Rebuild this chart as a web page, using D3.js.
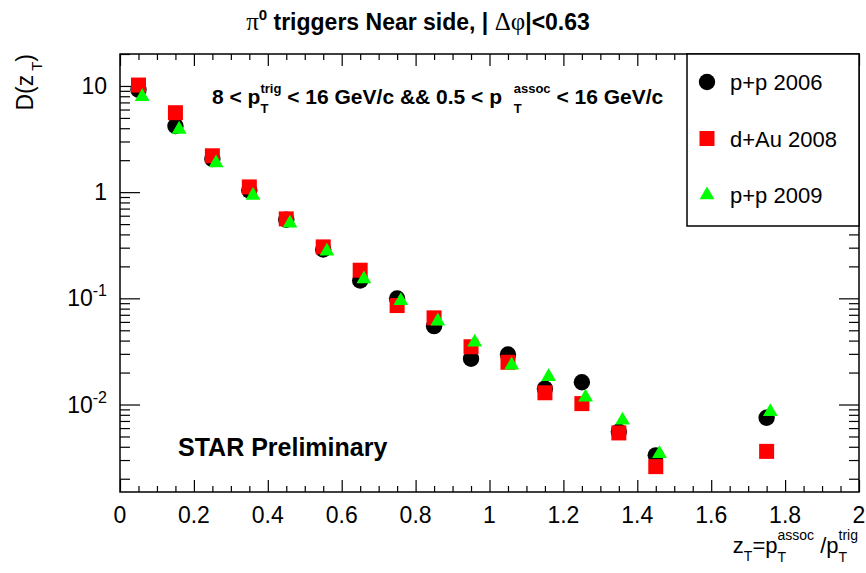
<!DOCTYPE html>
<html>
<head>
<meta charset="utf-8">
<script src="https://cdn.jsdelivr.net/npm/d3@7"></script>
<style>
body { margin: 0; background: #fff; }
text { font-family: "Liberation Sans", Arial, Helvetica, sans-serif; fill: #000; white-space: pre; }
</style>
</head>
<body>
<svg id="chart" width="866" height="573"></svg>
<script>
// z_T bin centres
const zT = [0.05, 0.15, 0.25, 0.35, 0.45, 0.55, 0.65, 0.75, 0.85, 0.95, 1.05, 1.15, 1.25, 1.35, 1.45, 1.75];
// D(z_T) per data set
const pp2006 = [9.2, 4.2, 2.05, 1.04, 0.55, 0.288, 0.147, 0.0995, 0.0547, 0.027, 0.0296, 0.0141, 0.0162, 0.00555, 0.00332, 0.0075];
const dAu2008 = [10.2, 5.6, 2.2, 1.12, 0.56, 0.305, 0.184, 0.0855, 0.0655, 0.035, 0.025, 0.0129, 0.0102, 0.0054, 0.0026, 0.00362];
const pp2009 = [7.9, 3.9, 1.88, 0.93, 0.51, 0.277, 0.152, 0.095, 0.061, 0.0386, 0.0235, 0.0183, 0.0117, 0.0071, 0.00344, 0.00855];
const seriesNames = ["p+p 2006", "d+Au 2008", "p+p 2009"];
const xTickLabels = ["0", "0.2", "0.4", "0.6", "0.8", "1", "1.2", "1.4", "1.6", "1.8", "2"];
const xDomain = [0, 2];
const yDomain = [0.0015, 20];

let margin = {"left": 120, "top": 54, "right": 7, "bottom": 81};
let width = 866;
let height = 573;

let svg = d3.select("#chart");

let x = d3.scaleLinear().domain(xDomain).range([margin.left, width - margin.right]);
let y = d3.scaleLog().domain(yDomain).range([height - margin.bottom, margin.top]);

// draws text made of pieces (sub/superscripts), measured left to right
function richText(g, pieces, px, py, anchor, rotate){
	let grp = g.append("g");
	let inner = grp.append("g");
	let cx = 0;
	let pending = 0;
	pieces.forEach(function(p){
		let t = inner.append("text")
			.attr("x", cx)
			.attr("y", p.dy || 0)
			.attr("font-size", p.size)
			.attr("font-weight", p.bold ? "bold" : "normal")
			.style("font-family", p.family || null)
			.text(p.t);
		let w = t.node().getComputedTextLength();
		if (p.stack){
			pending = w;
		} else {
			cx += Math.max(w, pending);
			pending = 0;
		}
	});
	let shift = anchor === "end" ? -cx : (anchor === "middle" ? -cx / 2 : 0);
	inner.attr("transform", "translate(" + shift + ",0)");
	grp.attr("transform", "translate(" + px + "," + py + ")" + (rotate ? " rotate(" + rotate + ")" : ""));
	return grp;
}

// frame
svg.append("rect")
	.attr("x", x(0)).attr("y", y(yDomain[1]))
	.attr("width", x(2) - x(0))
	.attr("height", y(yDomain[0]) - y(yDomain[1]))
	.attr("fill", "none").attr("stroke", "#000").attr("stroke-width", 1.5);

// x ticks, bottom and top, inward
let xTicks = d3.range(0, 41).map(i => i * 0.05);
let isMajorX = d => Math.abs(d * 5 - Math.round(d * 5)) < 1e-6;

let axisB = svg.append("g").attr("class", "axisX")
	.attr("transform", `translate(0,${y(yDomain[0])})`)
	.call(d3.axisTop(x).tickValues(xTicks).tickFormat("").tickSizeOuter(0));
axisB.selectAll(".tick line").attr("y2", d => isMajorX(d) ? -12 : -6).attr("stroke-width", 1.2);
axisB.select(".domain").remove();

let axisT = svg.append("g").attr("class", "axisXTop")
	.attr("transform", `translate(0,${y(yDomain[1])})`)
	.call(d3.axisBottom(x).tickValues(xTicks).tickFormat("").tickSizeOuter(0));
axisT.selectAll(".tick line").attr("y2", d => isMajorX(d) ? 12 : 6).attr("stroke-width", 1.2);
axisT.select(".domain").remove();

svg.append("g").selectAll("text.xlab")
	.data(xTickLabels)
	.join("text")
	.attr("class", "xlab")
	.attr("x", d => x(+d))
	.attr("y", y(yDomain[0]) + 31)
	.attr("text-anchor", "middle")
	.attr("font-size", 23)
	.text(d => d);

// y ticks, left and right, inward
let yTicks = y.ticks();
let isMajorY = d => Math.abs(Math.log10(d) - Math.round(Math.log10(d))) < 1e-6;

let axisL = svg.append("g").attr("class", "axisY")
	.attr("transform", `translate(${x(0)},0)`)
	.call(d3.axisRight(y).tickValues(yTicks).tickFormat("").tickSizeOuter(0));
axisL.selectAll(".tick line").attr("x2", d => isMajorY(d) ? 20 : 10).attr("stroke-width", 1.2);
axisL.select(".domain").remove();

let axisR = svg.append("g").attr("class", "axisYRight")
	.attr("transform", `translate(${x(2)},0)`)
	.call(d3.axisLeft(y).tickValues(yTicks).tickFormat("").tickSizeOuter(0));
axisR.selectAll(".tick line").attr("x2", d => isMajorY(d) ? -20 : -10).attr("stroke-width", 1.2);
axisR.select(".domain").remove();

yTicks.filter(isMajorY).forEach(function(d){
	let e = Math.round(Math.log10(d));
	let pieces = e === 1 ? [{t: "10", size: 23}] : (e === 0 ? [{t: "1", size: 23}] :
		[{t: "10", size: 23}, {t: String(e), size: 16, dy: -10}]);
	richText(svg, pieces, x(0) - 13, y(d) + 8, "end");
});

// data
let series = [
	{"name": seriesNames[0], "values": pp2006, "shape": "circle", "colour": "#000000", "shift": 0},
	{"name": seriesNames[1], "values": dAu2008, "shape": "square", "colour": "#ff0000", "shift": 0},
	{"name": seriesNames[2], "values": pp2009, "shape": "triangle", "colour": "#00ff00", "shift": 0.01}
];

function symbolPath(shape){
	if (shape === "circle") return d3.symbol().type(d3.symbolCircle).size(Math.PI * 8.2 * 8.2)();
	if (shape === "square") return d3.symbol().type(d3.symbolSquare).size(15 * 15)();
	return d3.symbol().type(d3.symbolTriangle).size(95)();
}

let marks = svg.append("g").attr("class", "main");
series.forEach(function(s){
	marks.append("g")
		.selectAll("path")
		.data(s.values)
		.join("path")
		.attr("d", symbolPath(s.shape))
		.attr("fill", s.colour)
		.attr("transform", (d, i) => `translate(${x(zT[i] + s.shift)},${y(d)})`);
});

// legend
let legend = svg.append("g").attr("class", "legend");
legend.append("rect")
	.attr("x", 687).attr("y", y(yDomain[1]))
	.attr("width", x(2) - 687).attr("height", 172)
	.attr("fill", "#fff").attr("stroke", "#000").attr("stroke-width", 1.5);
let legendRows = legend.selectAll("g.row")
	.data(series)
	.join("g")
	.attr("class", "row")
	.attr("transform", (d, i) => `translate(707,${82 + i * 56.5})`);
legendRows.append("path")
	.attr("d", d => symbolPath(d.shape))
	.attr("fill", d => d.colour);
legendRows.append("text")
	.attr("x", 23)
	.attr("dy", 8)
	.attr("font-size", 22)
	.text(d => d.name);

// title
richText(svg, [
	{t: "\u03c0", size: 25, family: "'Liberation Serif', serif"},
	{t: "0", size: 15, bold: true, dy: -10},
	{t: " triggers Near side, | ", size: 23, bold: true},
	{t: "\u0394\u03c6", size: 25, family: "'Liberation Serif', serif"},
	{t: "|<0.63", size: 23, bold: true}
], 418, 30, "middle");

// kinematic range
richText(svg, [
	{t: "8 < p", size: 21, bold: true},
	{t: "trig", size: 13, bold: true, dy: -11, stack: true},
	{t: "T", size: 13, bold: true, dy: 9},
	{t: " < 16 GeV/c && 0.5 < p  ", size: 21, bold: true},
	{t: "assoc", size: 13, bold: true, dy: -11, stack: true},
	{t: "T", size: 13, bold: true, dy: 9},
	{t: " < 16 GeV/c", size: 21, bold: true}
], 212, 104, "start");

svg.append("text")
	.attr("x", 178).attr("y", 456)
	.attr("font-size", 25).attr("font-weight", "bold")
	.text("STAR Preliminary");

// axis titles
richText(svg, [
	{t: "z", size: 22},
	{t: "T", size: 14, dy: 8},
	{t: "=p", size: 22},
	{t: "assoc", size: 14, dy: -13, stack: true},
	{t: "T", size: 14, dy: 9},
	{t: " /p", size: 22},
	{t: "trig", size: 14, dy: -13, stack: true},
	{t: "T", size: 14, dy: 9}
], 858, 553, "end");

richText(svg, [
	{t: "D(z", size: 23},
	{t: " ", size: 14},
	{t: "T", size: 15, dy: 9},
	{t: ")", size: 23}
], 33, 54, "end", -90);
</script>
</body>
</html>
